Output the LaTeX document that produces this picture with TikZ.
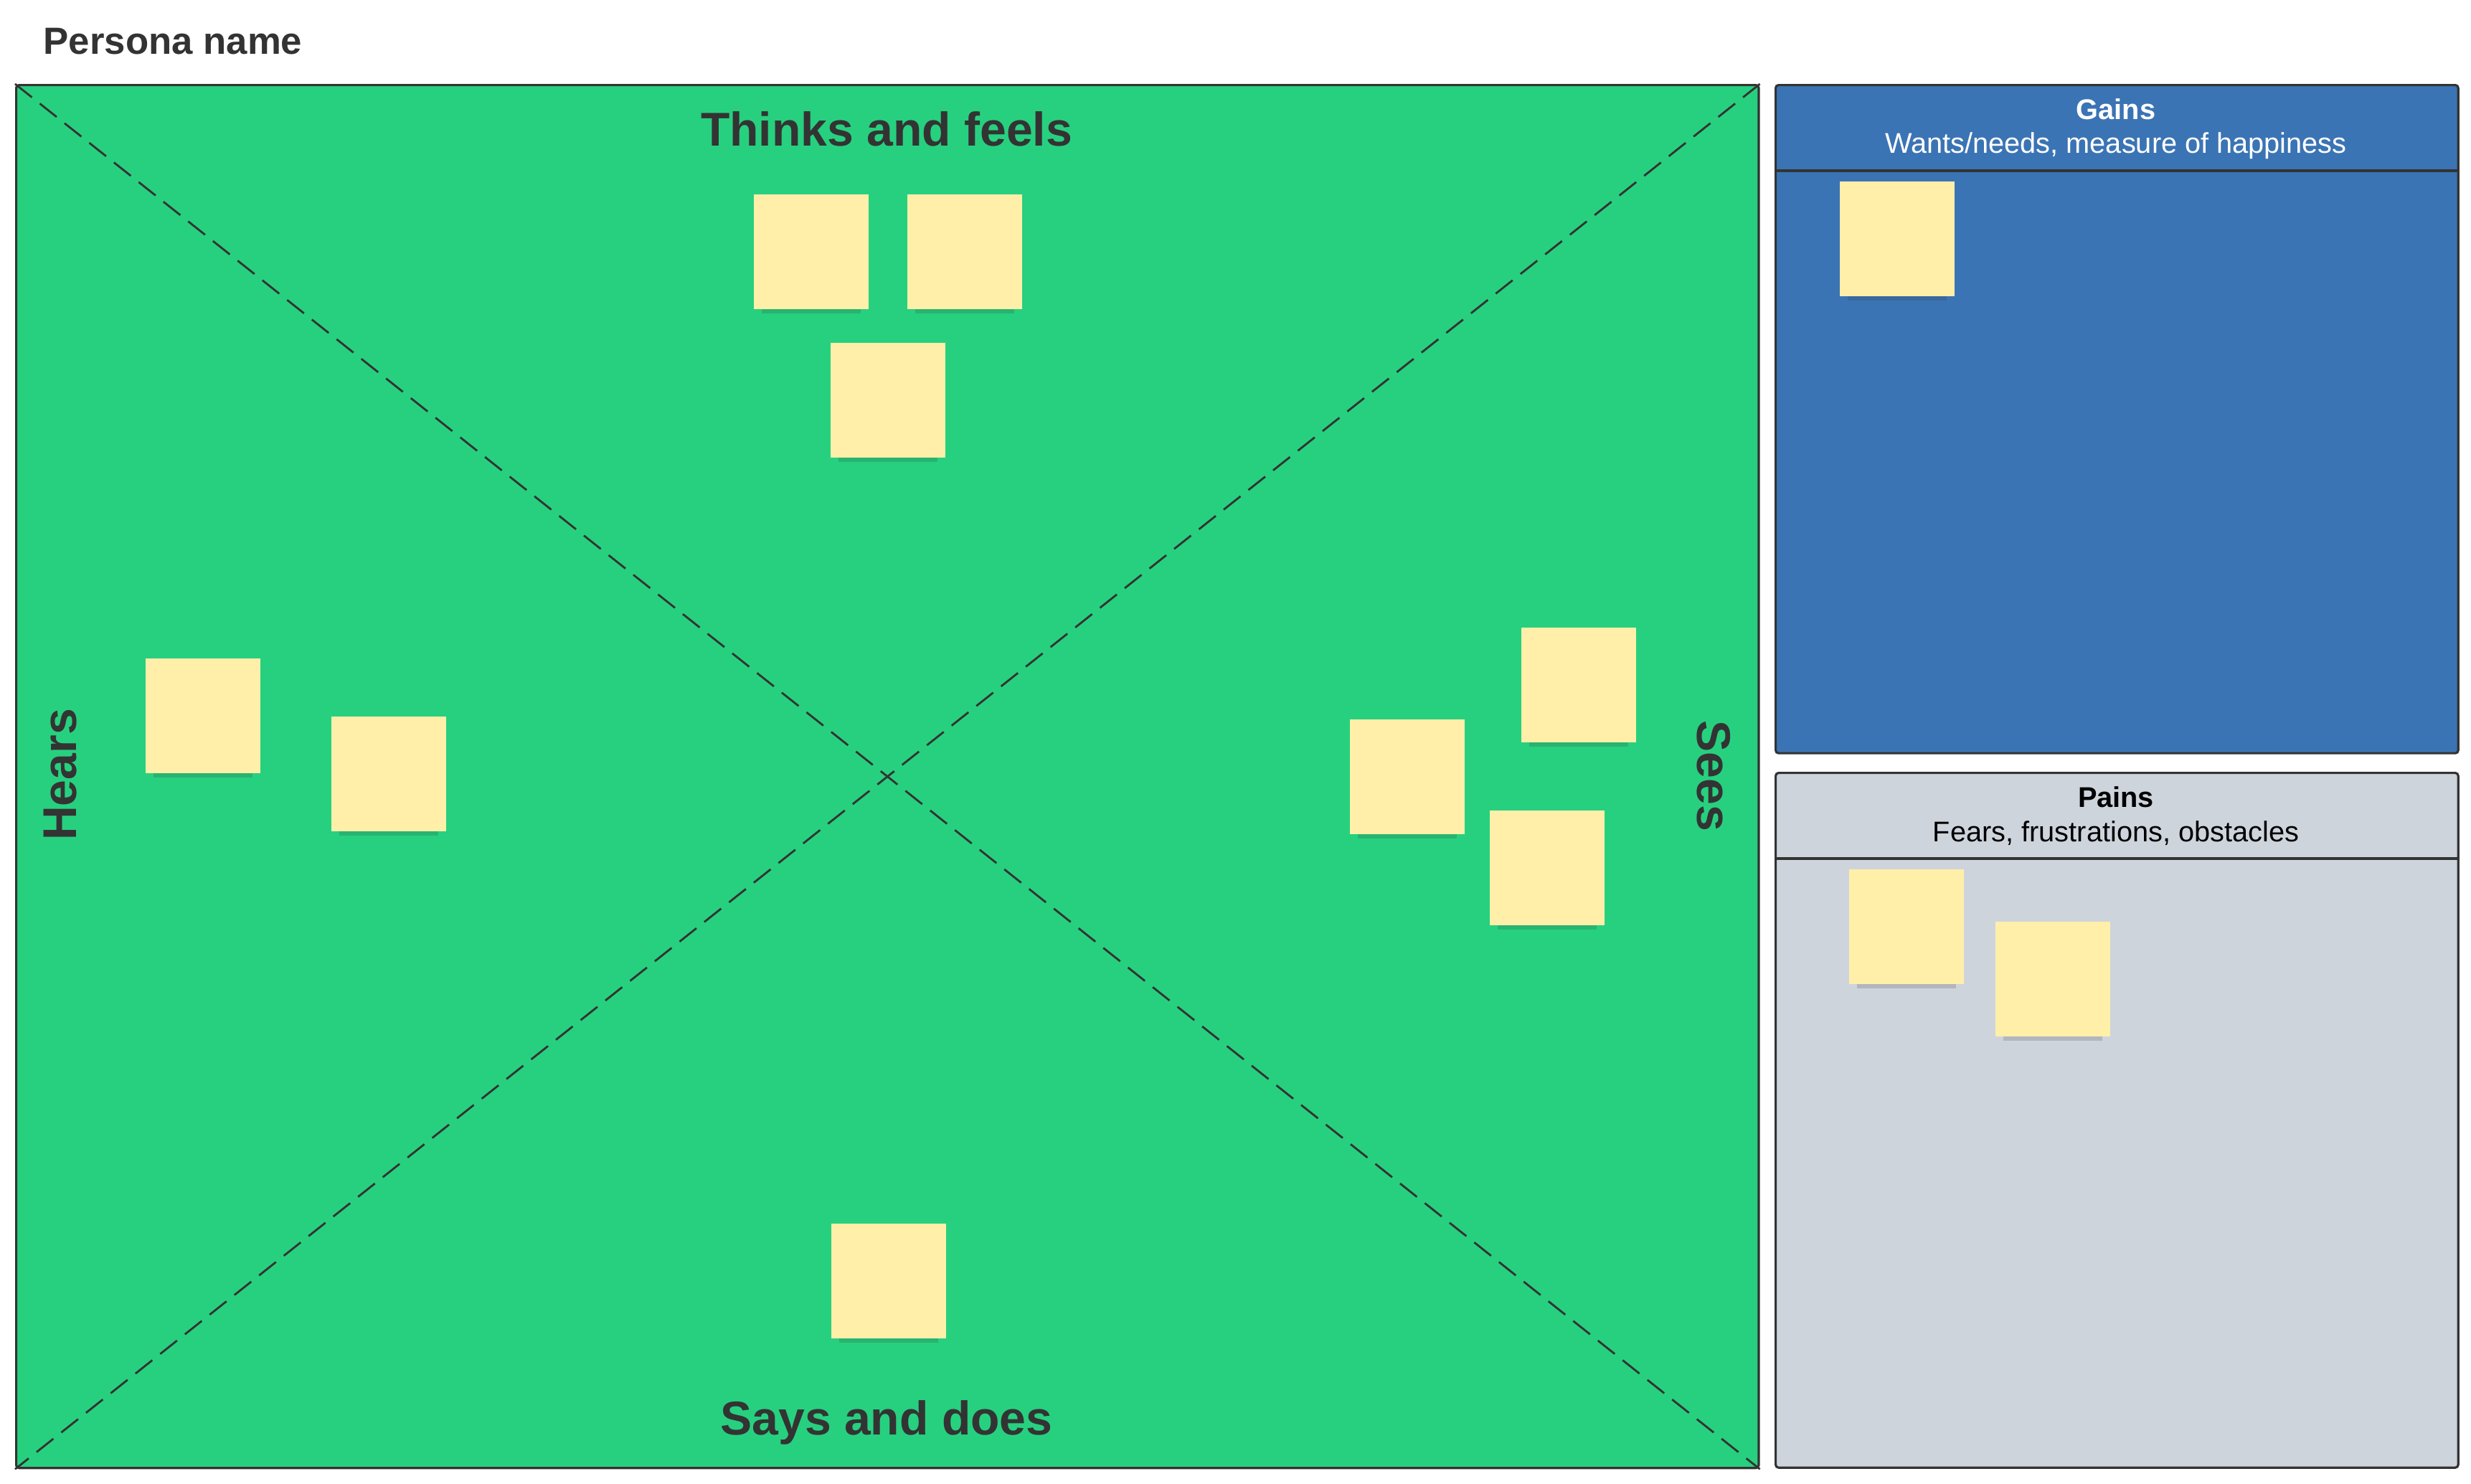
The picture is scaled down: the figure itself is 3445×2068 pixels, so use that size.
\documentclass[tikz,border=0pt]{standalone}
\usepackage{fontspec}
\setmainfont{Liberation Sans}
\usepackage{xcolor}
\usepackage{tikz}
\usetikzlibrary{shadows}
\definecolor{mapgreen}{RGB}{39,208,127}
\definecolor{gainblue}{RGB}{59,116,180}
\definecolor{paingray}{RGB}{206,212,220}
\definecolor{stickyyellow}{RGB}{255,239,169}
\definecolor{inkgray}{RGB}{51,51,51}

\begin{document}
\begin{tikzpicture}[x=0.01cm, y=-0.01cm,
  panel/.style={draw=inkgray, line width=0.9pt, rounded corners=0.04cm, anchor=north west, inner sep=0pt},
  sticky/.style={fill=stickyyellow, minimum size=1.6cm, inner sep=0pt, anchor=north west,
    drop shadow={shadow xshift=0cm, shadow yshift=-0.2cm, shadow scale=0.86, opacity=0.18, fill=black!80}},
  diag/.style={draw=inkgray, line width=0.8pt, dash pattern=on 0.3cm off 0.14cm},
  quadrant/.style={text=inkgray, font=\fontsize{18.8}{22}\selectfont\bfseries},
  paneltitle/.style={anchor=base, font=\fontsize{11.3}{13}\selectfont\bfseries},
  panelsub/.style={anchor=base, font=\fontsize{11.3}{13}\selectfont}]
\useasboundingbox (0,0) rectangle (3445,2068);
\fill[white] (0,0) rectangle (3445,2068);

\node[anchor=base west, inner sep=0pt, text=inkgray, font=\fontsize{15}{18}\selectfont\bfseries] (persona) at (60,75) {Persona name};

% empathy map
\node[panel, fill=mapgreen, minimum width=24.28cm, minimum height=19.27cm] (map) at (21,117) {};
\draw[diag] (map.north west) -- (map.south east);
\draw[diag] (map.north east) -- (map.south west);
\node[quadrant, anchor=base] (thinks) at (1236,203) {Thinks and feels};
\node[quadrant, anchor=base] (says) at (1236,2000) {Says and does};
\node[quadrant, rotate=90] (hears) at (84,1080) {Hears};
\node[quadrant, rotate=-90] (sees) at (2389,1082) {Sees};

% gains and pains
\node[panel, fill=gainblue, minimum width=9.51cm, minimum height=9.31cm] (gains) at (2474,117) {};
\draw[inkgray, line width=0.9pt] (gains.west |- 0,238) -- (gains.east |- 0,238);
\node[paneltitle, text=white] (gainstitle) at (2950,166) {Gains};
\node[panelsub, text=white] (gainssub) at (2950,213) {Wants/needs, measure of happiness};

\node[panel, fill=paingray, minimum width=9.51cm, minimum height=9.68cm] (pains) at (2474,1076) {};
\draw[inkgray, line width=0.9pt] (pains.west |- 0,1197) -- (pains.east |- 0,1197);
\node[paneltitle, text=black] (painstitle) at (2950,1125) {Pains};
\node[panelsub, text=black] (painssub) at (2950,1173) {Fears, frustrations, obstacles};

% sticky notes
\foreach \name/\x/\y in {think1/1050/270, think2/1264/270, think3/1157/477,
    hear1/202/917, hear2/461/998,
    see1/2120/874, see2/1881/1002, see3/2076/1129,
    say1/1158/1705,
    gain1/2564/252, pain1/2577/1211, pain2/2781/1284}
  \node[sticky] (\name) at (\x,\y) {};
\end{tikzpicture}
\end{document}
